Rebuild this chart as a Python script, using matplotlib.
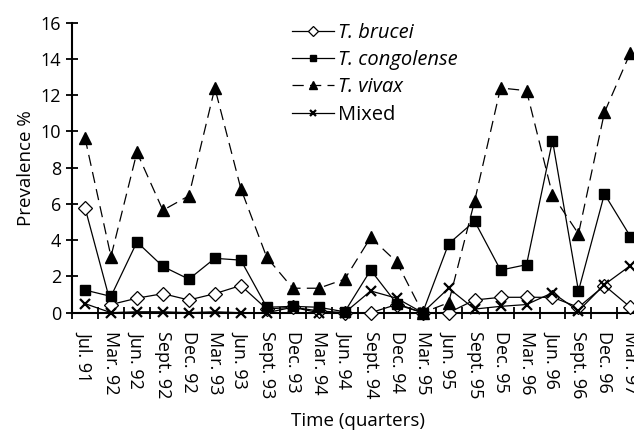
import matplotlib
matplotlib.use("Agg")
import matplotlib.pyplot as plt
import numpy as np

categories = ["Jul. 91", "Mar. 92", "Jun. 92", "Sept. 92", "Dec. 92", "Mar. 93",
              "Jun. 93", "Sept. 93", "Dec. 93", "Mar. 94", "Jun. 94", "Sept. 94",
              "Dec. 94", "Mar. 95", "Jun. 95", "Sept. 95", "Dec. 95", "Mar. 96",
              "Jun. 96", "Sept. 96", "Dec. 96", "Mar. 97"]

t_brucei = [5.8, 0.45, 0.8, 1.05, 0.7, 1.05, 1.5, 0.2, 0.3, 0.1, 0.0, 0.0,
            0.45, 0.0, 0.0, 0.7, 0.85, 0.85, 0.85, 0.3, 1.5, 0.3]
t_congolense = [1.25, 0.9, 3.9, 2.55, 1.85, 3.0, 2.9, 0.3, 0.35, 0.3, 0.05, 2.35,
                0.5, 0.0, 3.8, 5.05, 2.35, 2.65, 9.5, 1.2, 6.55, 4.2]
t_vivax = [9.65, 3.1, 8.85, 5.65, 6.45, 12.4, 6.85, 3.05, 1.35, 1.35, 1.85, 4.15,
           2.8, 0.0, 0.55, 6.15, 12.4, 12.25, 6.5, 4.35, 11.05, 14.35]
mixed = [0.5, 0.0, 0.05, 0.05, 0.0, 0.05, 0.0, 0.0, 0.3, 0.0, 0.0, 1.2,
         0.8, 0.0, 1.35, 0.2, 0.35, 0.45, 1.1, 0.1, 1.55, 2.6]

yticks = [0, 2, 4, 6, 8, 10, 12, 14, 16]

plt.rcParams['font.family'] = ['Open Sans', 'DejaVu Sans']

fig = plt.figure(figsize=(6.34, 4.38), dpi=100)
ax = fig.add_axes([72 / 634, 1 - 312.7 / 438, 571.4 / 634, 290 / 438])

x = np.arange(len(categories))
lw = 0.9
ax.plot(x, t_brucei, color='black', lw=lw, marker='D', markersize=7.5,
        markerfacecolor='white', markeredgecolor='black', markeredgewidth=0.9,
        label='T. brucei', clip_on=False, zorder=3)
ax.plot(x, t_congolense, color='black', lw=lw, marker='s', markersize=7.5,
        markerfacecolor='black', label='T. congolense', clip_on=False, zorder=4)
ax.plot(x, t_vivax, color='black', lw=lw, linestyle=(0, (9, 5)), marker='^',
        markersize=8.5, markerfacecolor='black', label='T. vivax',
        clip_on=False, zorder=5)
ax.plot(x, mixed, color='black', lw=lw, marker='x', markersize=7.5,
        markeredgewidth=1.6, label='Mixed', clip_on=False, zorder=6)

ax.set_xlim(-0.5, len(categories) - 0.5)
ax.set_ylim(0, 16)
ax.set_yticks(yticks)
ax.set_yticklabels([str(v) for v in yticks])
ax.set_xticks(x)
ax.set_xticklabels(categories, rotation=-90, va='top', ha='center')
ax.set_xticks(np.arange(-0.5, len(categories), 1.0), minor=True)

for s in ['top', 'right']:
    ax.spines[s].set_visible(False)
for s in ['left', 'bottom']:
    ax.spines[s].set_linewidth(1.5)

ax.tick_params(axis='x', which='major', length=0, pad=13, labelsize=13)
ax.tick_params(axis='x', which='minor', direction='inout', length=8, width=1.3)
ax.tick_params(axis='y', which='major', direction='inout', length=8, width=1.3,
               pad=4, labelsize=13)

ax.set_ylabel('Prevalence %', fontsize=13.5, labelpad=4)
ax.set_xlabel('Time (quarters)', fontsize=13.5, labelpad=10)

leg = ax.legend(loc='upper left', bbox_to_anchor=(292 / 634, 1 - 23 / 438),
                bbox_transform=fig.transFigure, frameon=False, fontsize=14.5,
                markerscale=0.65, handlelength=2.1, handletextpad=0.2,
                labelspacing=0.36, borderaxespad=0, borderpad=0)
for i, t in enumerate(leg.get_texts()):
    if i < 3:
        t.set_fontstyle('italic')

fig.savefig('out.png', dpi=100)
